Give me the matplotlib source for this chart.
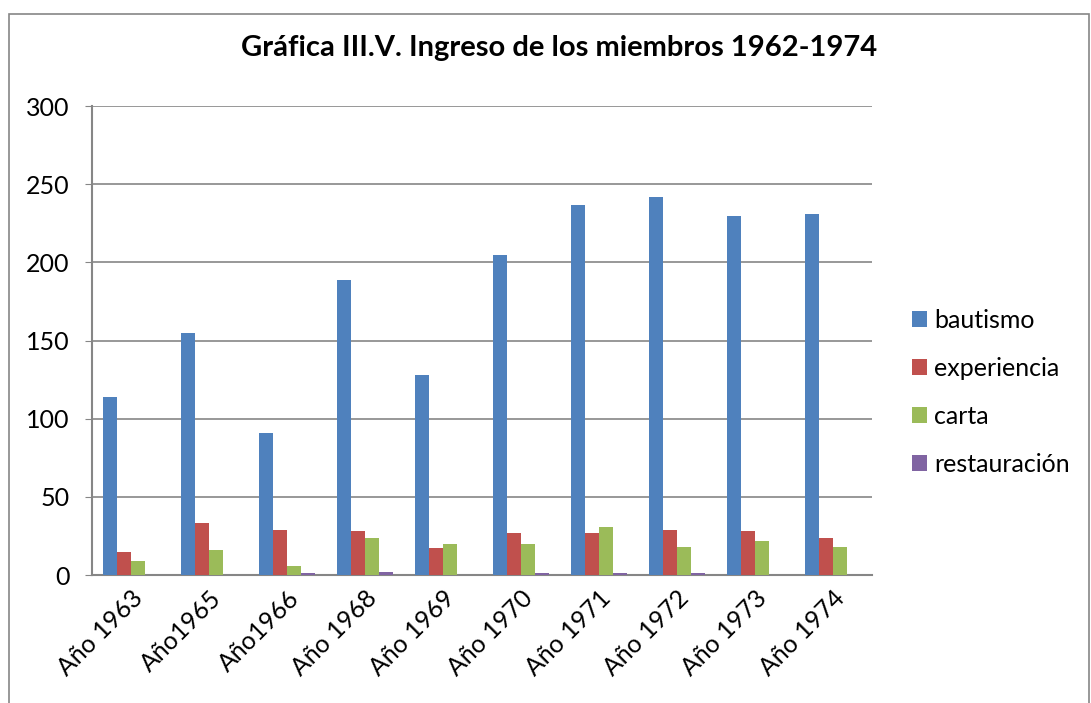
import matplotlib
matplotlib.use("Agg")
import matplotlib.pyplot as plt
import numpy as np

categories = ["Año 1963", "Año1965", "Año1966", "Año 1968", "Año 1969",
              "Año 1970", "Año 1971", "Año 1972", "Año 1973", "Año 1974"]
bautismo = [114, 155, 91, 189, 128, 205, 237, 242, 230, 231]
experiencia = [15, 33, 29, 28, 17, 27, 27, 29, 28, 24]
carta = [9, 16, 6, 24, 20, 20, 31, 18, 22, 18]
restauracion = [0, 0, 1, 2, 0, 1, 1, 1, 0, 0]
series_names = ["bautismo", "experiencia", "carta", "restauración"]
colors = ["#4F81BD", "#C0504D", "#9BBB59", "#8064A2"]
yticks = [0, 50, 100, 150, 200, 250, 300]

plt.rcParams['font.family'] = ['Lato', 'DejaVu Sans']

fig = plt.figure(figsize=(10.91, 7.03), dpi=100)
ax = fig.add_axes([0.0843, 0.182, 0.7150, 0.667])

x = np.arange(len(categories))
w = 0.18
data = [bautismo, experiencia, carta, restauracion]
for i, (vals, name, c) in enumerate(zip(data, series_names, colors)):
    ax.bar(x + (i - 1.5) * w, vals, width=w, color=c, label=name, zorder=3)

ax.set_xlim(-0.5, len(categories) - 0.5)
ax.set_ylim(0, 300)
ax.set_yticks(yticks)
ax.set_yticklabels([str(t) for t in yticks], fontsize=18)
ax.set_xticks(x)
ax.set_xticklabels(categories, rotation=45, ha='right', rotation_mode='anchor', fontsize=18)
ax.tick_params(axis='x', length=0, pad=8)
ax.tick_params(axis='y', length=5, color='#868686', pad=11)
ax.grid(axis='y', color='#868686', linewidth=1.2, zorder=0)
for s in ['top', 'right']:
    ax.spines[s].set_visible(False)
for s in ['left', 'bottom']:
    ax.spines[s].set_color('#868686')
    ax.spines[s].set_linewidth(1.5)

fig.suptitle("Gráfica III.V. Ingreso de los miembros 1962-1974", fontsize=21,
             fontweight='bold', x=0.512, y=0.95)

leg = ax.legend(loc='center left', bbox_to_anchor=(1.022, 0.39), frameon=False,
                fontsize=18, handlelength=0.6, handleheight=0.6, labelspacing=1.0,
                handletextpad=0.3)

border = plt.Rectangle((0.0085, -0.05), 0.99, 1.03, transform=fig.transFigure,
                       fill=False, edgecolor='#868686', linewidth=1.2)
fig.patches.append(border)

fig.savefig("out.png", dpi=100)
